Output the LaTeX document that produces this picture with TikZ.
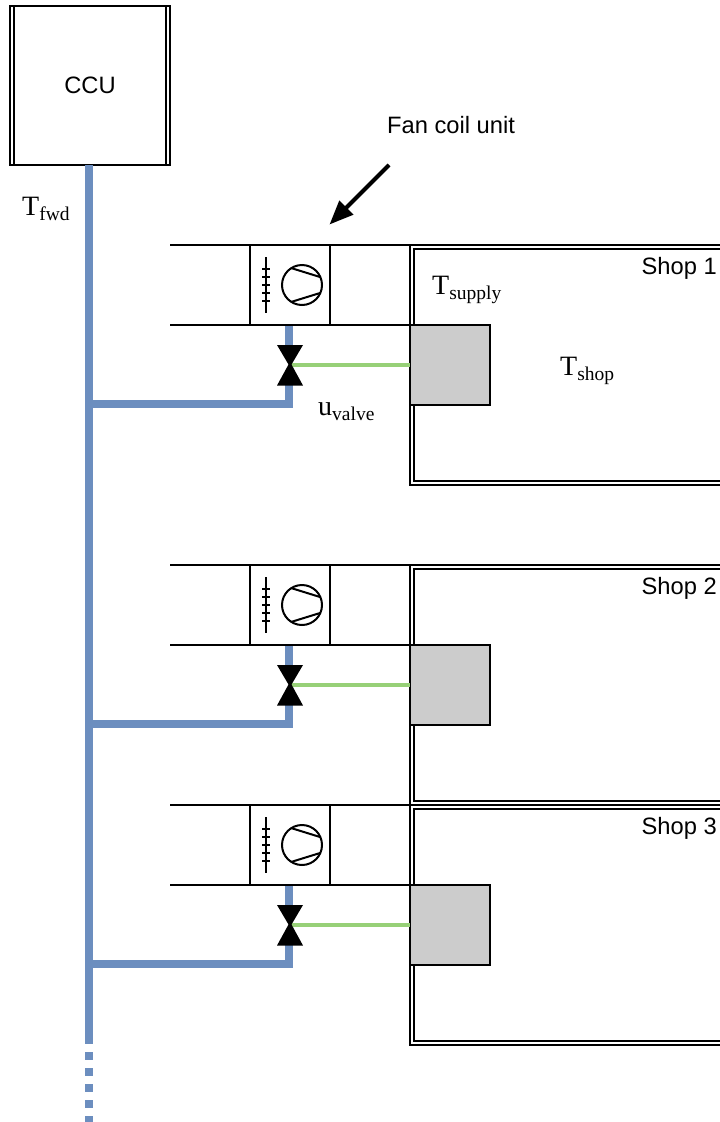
\documentclass[tikz,border=0pt]{standalone}
\usepackage{fontspec}
\setmainfont{Liberation Sans}
\newfontfamily\serifface{Liberation Serif}
\usetikzlibrary{arrows.meta,positioning}
\definecolor{pipeblue}{HTML}{6C8EBF}
\definecolor{ctrlgreen}{HTML}{97D077}
\definecolor{boxgray}{HTML}{CCCCCC}
\newcommand{\subtext}[2]{{\serifface\fontsize{28}{28}\selectfont #1\raisebox{-5pt}{\fontsize{19.5}{20}\selectfont #2}}}
\tikzset{
  x=1pt,y=-1pt,
  wall/.style={draw=black,line width=2pt,fill=none,rectangle,inner sep=0pt,outer sep=0pt,anchor=north west},
  pipe/.style={draw=pipeblue,line width=8pt},
  ctrl/.style={draw=ctrlgreen,line width=4pt},
  thin line/.style={draw=black,line width=2pt},
  label text/.style={font=\fontsize{23.7}{24}\selectfont,inner sep=0pt},
  sym text/.style={inner sep=0pt,anchor=base west},
}
\begin{document}
\begin{tikzpicture}
\clip (0,0) rectangle (720,1122);
\fill[white] (0,0) rectangle (720,1122);
% central cooling unit
\node[wall,minimum width=160pt,minimum height=159pt,label text] (ccu) at (10,6) {};
\node[label text] (ccutext) at (90,85.5) {CCU};
\draw[thin line] ([xshift=4pt]ccu.north west) -- ([xshift=4pt]ccu.south west);
\draw[thin line] ([xshift=-4pt]ccu.north east) -- ([xshift=-4pt]ccu.south east);
\coordinate (main top) at (89,165);
\coordinate (main end) at (89,1044);
\coordinate (dots end) at (89,1122);
\draw[pipe,line cap=butt] (main top) -- (main end);
\draw[pipe,dash pattern=on 8pt off 8pt,dash phase=0pt] (89,1052) -- (dots end);
% shops
\foreach \n/\top/\lab in {1/245/Shop 1,2/565/Shop 2,3/805/Shop 3}{
  \node[wall,minimum width=340pt,minimum height=240pt] (shop\n) at (410,\top) {};
  \node[wall,minimum width=340pt,minimum height=232pt] (inner\n) at (414,\top+4) {};
  \node[label text,anchor=base east] (shoplab\n) at (717,\top+29) {\lab};
}
% fan coil units
\foreach \n/\d in {1/0,2/320,3/560}{
  \begin{scope}[yshift=-\d pt]
    \coordinate (tap\n) at (89,404);
    \coordinate (corner\n) at (289,404);
    \coordinate (ductA\n) at (170,245);
    \coordinate (ductB\n) at (170,325);
    \node[wall,minimum width=80pt,minimum height=80pt] (heat\n) at (410,325) {};
    \fill[boxgray] (410,325) rectangle (490,405);
    \draw[thin line] (410,325) rectangle (490,405);
    \node[wall,fill=white,minimum width=80pt,minimum height=80pt] (fcu\n) at (250,245) {};
    \draw[thin line] (ductA\n) -- (fcu\n.north west);
    \draw[thin line] (fcu\n.north east) -- (410,245);
    \draw[thin line] (ductB\n) -- (fcu\n.south west);
    \draw[thin line] (fcu\n.south east) -- (410,325);
    \coordinate (valve\n) at (290,364.5);
    % supply pipe, interrupted by the valve
    \draw[pipe,line join=miter] (tap\n) -- (corner\n) -- (289,385);
    \draw[pipe] (289,345) -- (289,326);
    \draw[ctrl] (valve\n) -- (valve\n -| heat\n.west);
    % valve
    \fill[black] (277,345) -- (303,345) -- (291.5,364.5) -- (303,385.5) -- (277,385.5) -- (288.5,364.5) -- cycle;
    % coil
    \draw[thin line] (266,257) -- (266,313);
    \foreach \t in {269,277,285,293,301}
      \draw[thin line] (262,\t) -- (270,\t);
    % fan
    \draw[thin line] (302,285) circle (20pt);
    \draw[thin line] (291,268) -- (320,277);
    \draw[thin line] (291,302) -- (320,293);
  \end{scope}
}
% arrow and labels
\node[label text] (fan) at (451,125) {Fan coil unit};
\coordinate (arrow start) at (389,165);
\coordinate (arrow end) at (329.5,224.5);
\draw[line width=4pt,-{Triangle[length=24pt,width=19pt]}] (arrow start) -- (arrow end);
\node[sym text] (tfwd) at (22,215) {\subtext{T}{fwd}};
\node[sym text] (tsupply) at (432,294) {\subtext{T}{supply}};
\node[sym text] (tshop) at (560,375) {\subtext{T}{shop}};
\node[sym text] (uvalve) at (318,415) {\subtext{u}{valve}};
\end{tikzpicture}
\end{document}
